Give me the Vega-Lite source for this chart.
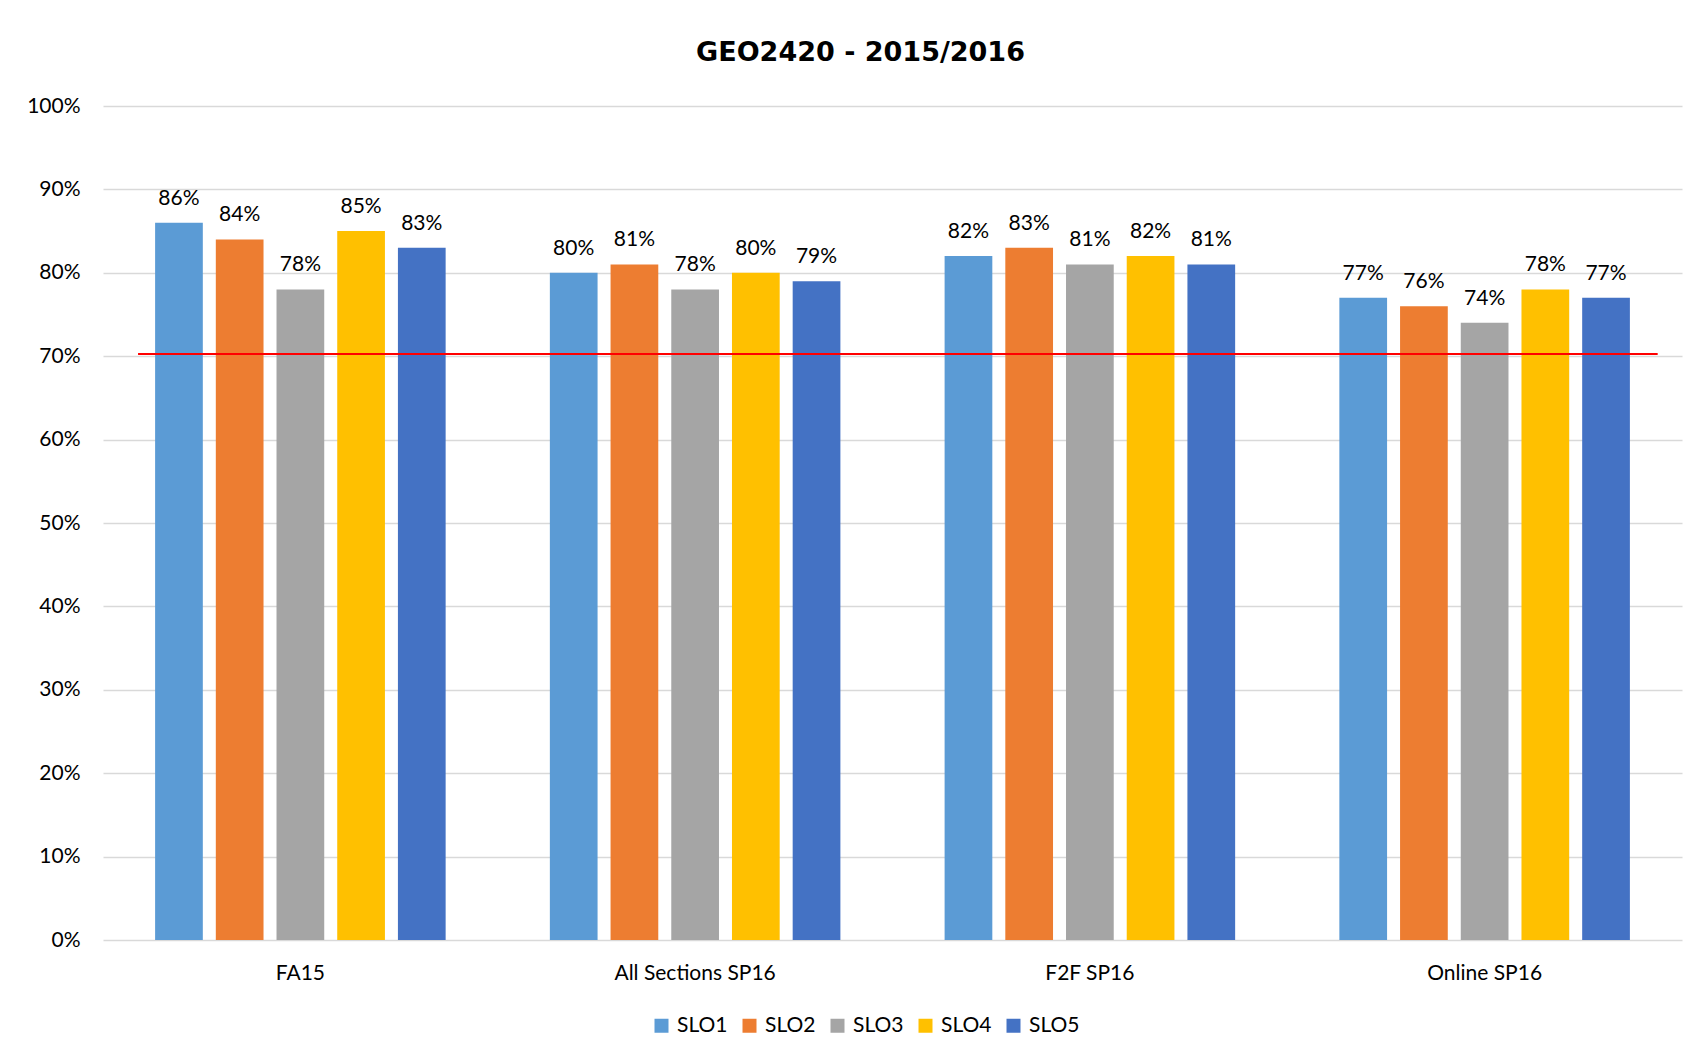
{
  "$schema": "https://vega.github.io/schema/vega-lite/v6.json",
  "width": 1579,
  "height": 834,
  "autosize": {"type": "none"},
  "padding": {"left": 103, "top": 106, "right": 14, "bottom": 117},
  "background": "white",
  "title": {"text": "GEO2420 - 2015/2016", "font": "DejaVu Sans", "fontSize": 27, "fontWeight": "bold", "color": "#000000", "anchor": "middle", "dx": -32, "offset": 28},
  "data": {"values": [
    {"group": "FA15", "slo": "SLO1", "value": 0.86},
    {"group": "FA15", "slo": "SLO2", "value": 0.84},
    {"group": "FA15", "slo": "SLO3", "value": 0.78},
    {"group": "FA15", "slo": "SLO4", "value": 0.85},
    {"group": "FA15", "slo": "SLO5", "value": 0.83},
    {"group": "All Sections SP16", "slo": "SLO1", "value": 0.80},
    {"group": "All Sections SP16", "slo": "SLO2", "value": 0.81},
    {"group": "All Sections SP16", "slo": "SLO3", "value": 0.78},
    {"group": "All Sections SP16", "slo": "SLO4", "value": 0.80},
    {"group": "All Sections SP16", "slo": "SLO5", "value": 0.79},
    {"group": "F2F SP16", "slo": "SLO1", "value": 0.82},
    {"group": "F2F SP16", "slo": "SLO2", "value": 0.83},
    {"group": "F2F SP16", "slo": "SLO3", "value": 0.81},
    {"group": "F2F SP16", "slo": "SLO4", "value": 0.82},
    {"group": "F2F SP16", "slo": "SLO5", "value": 0.81},
    {"group": "Online SP16", "slo": "SLO1", "value": 0.77},
    {"group": "Online SP16", "slo": "SLO2", "value": 0.76},
    {"group": "Online SP16", "slo": "SLO3", "value": 0.74},
    {"group": "Online SP16", "slo": "SLO4", "value": 0.78},
    {"group": "Online SP16", "slo": "SLO5", "value": 0.77}
  ]},
  "layer": [
    {
      "encoding": {
        "x": {"field": "group", "type": "nominal", "sort": ["FA15", "All Sections SP16", "F2F SP16", "Online SP16"],
              "scale": {"paddingInner": 0.264, "paddingOuter": 0.132},
              "axis": {"title": null, "labelAngle": 0, "domain": false, "ticks": false, "labelPadding": 22, "labelFont": "Lato", "labelFontSize": 21, "labelColor": "#000000"}},
        "xOffset": {"field": "slo", "type": "nominal", "scale": {"paddingInner": 0.214, "paddingOuter": 0}},
        "y": {"field": "value", "type": "quantitative", "scale": {"domain": [0, 1]},
              "axis": {"title": null, "values": [0, 0.1, 0.2, 0.3, 0.4, 0.5, 0.6, 0.7, 0.8, 0.9, 1], "format": ".0%", "domain": false, "ticks": false, "labelPadding": 23, "labelFont": "Lato", "labelFontSize": 21, "labelColor": "#000000", "gridColor": "#d9d9d9", "gridWidth": 1.5}}
      },
      "layer": [
        {
          "mark": {"type": "bar"},
          "encoding": {
            "color": {"field": "slo", "type": "nominal",
                      "scale": {"domain": ["SLO1", "SLO2", "SLO3", "SLO4", "SLO5"], "range": ["#5B9BD5", "#ED7D31", "#A5A5A5", "#FFC000", "#4472C4"]},
                      "legend": {"title": null, "orient": "none", "legendX": 548, "legendY": 909, "direction": "horizontal", "symbolType": "square", "symbolSize": 196, "symbolStrokeWidth": 0, "labelFont": "Lato", "labelFontSize": 21, "labelColor": "#000000", "labelOffset": 5, "columnPadding": 11, "padding": 0}}
          }
        },
        {
          "mark": {"type": "text", "dy": -18, "baseline": "alphabetic", "font": "Lato", "fontSize": 21, "color": "#000000"},
          "encoding": {
            "text": {"field": "value", "type": "quantitative", "format": ".0%"}
          }
        }
      ]
    },
    {
      "data": {"values": [{"start": 0.0222, "end": 0.9846, "target": 0.7025}]},
      "mark": {"type": "rule", "color": "#FF0000", "strokeWidth": 2},
      "encoding": {
        "x": {"field": "start", "type": "quantitative", "scale": {"domain": [0, 1], "nice": false}, "axis": null},
        "x2": {"field": "end"},
        "y": {"field": "target", "type": "quantitative"}
      }
    }
  ],
  "resolve": {"scale": {"x": "independent"}},
  "config": {"view": {"stroke": null}}
}
